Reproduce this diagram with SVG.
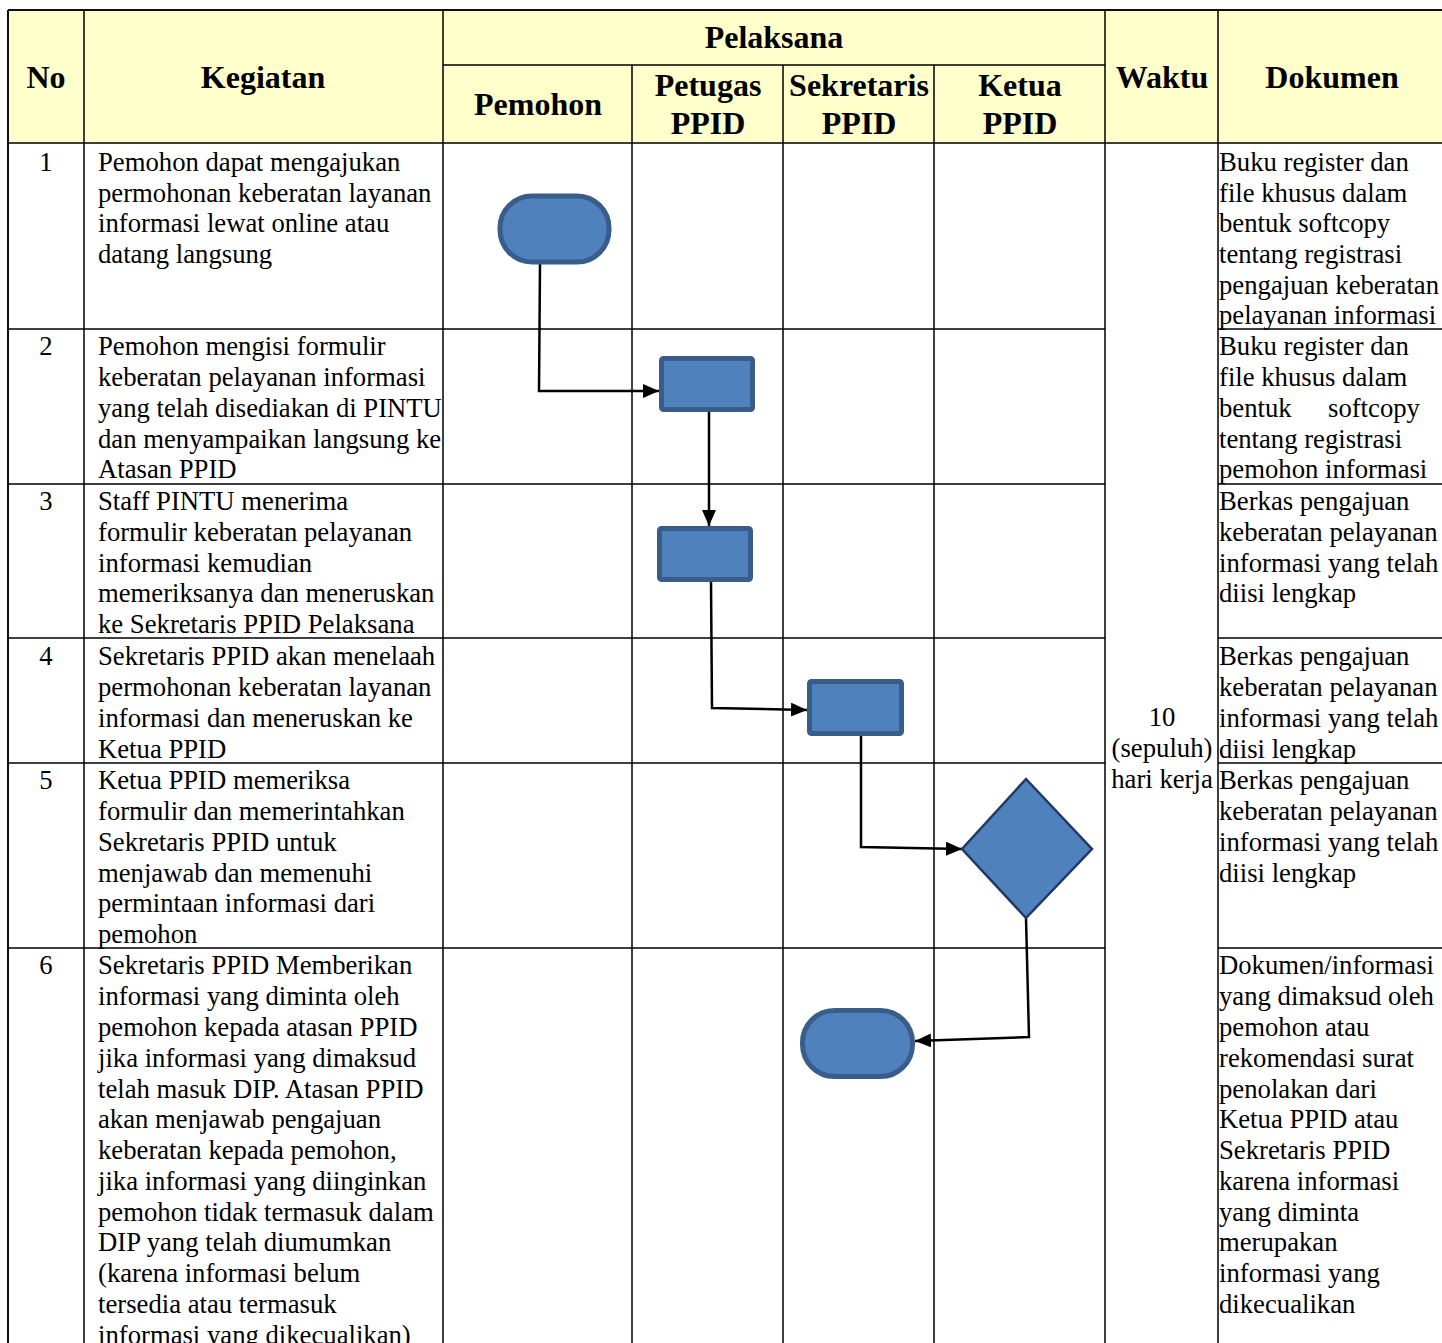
<svg xmlns="http://www.w3.org/2000/svg" width="1442" height="1343" viewBox="0 0 1442 1343">
<style>
.hdr{fill:#FFFFCC;stroke:none}
.g{stroke:#000;stroke-width:1.5;fill:none}
.h{font-family:"Liberation Serif","Times New Roman",serif;font-weight:bold;font-size:32px;fill:#000;text-anchor:middle}
.t{font-family:"Liberation Serif","Times New Roman",serif;font-size:26.7px;fill:#000}
.c{text-anchor:middle}
.term,.proc{fill:#4F81BD;stroke:#385D8A;stroke-width:5}
.dec{fill:#4F81BD;stroke:#1F3864;stroke-width:2.5}
.conn{fill:none;stroke:#000;stroke-width:2.5;marker-end:url(#arr)}
</style>
<defs>
<marker id="arr" markerUnits="userSpaceOnUse" markerWidth="18" markerHeight="16" refX="16" refY="7" orient="auto">
<path d="M0,0 L16,7 L0,14 z" fill="#000"/>
</marker>
</defs>
<rect width="1442" height="1343" fill="#fff"/>
<g id="table">
<rect class="hdr" x="8" y="10" width="1434" height="133"/>
<path class="g" d="M8,10 H1442 M8,143 H1442 M443,65 H1105 M8,329 H1105 M1218,329 H1442 M8,484 H1105 M1218,484 H1442 M8,638 H1105 M1218,638 H1442 M8,763 H1105 M1218,763 H1442 M8,948 H1105 M1218,948 H1442 M8,10 V1343 M84,10 V1343 M443,10 V1343 M632,65 V1343 M783,65 V1343 M934,65 V1343 M1105,10 V1343 M1218,10 V1343" stroke-width="1.5"/>
<path class="g" d="M8,10 H1442 M8,10 V1343" stroke-width="2"/>
</g>
<g id="header">
<text class="h" x="46" y="88">No</text>
<text class="h" x="263" y="88">Kegiatan</text>
<text class="h" x="774" y="48">Pelaksana</text>
<text class="h" x="538" y="115">Pemohon</text>
<text class="h" x="708" y="96">Petugas</text>
<text class="h" x="708" y="134">PPID</text>
<text class="h" x="859" y="96">Sekretaris</text>
<text class="h" x="859" y="134">PPID</text>
<text class="h" x="1020" y="96">Ketua</text>
<text class="h" x="1020" y="134">PPID</text>
<text class="h" x="1162" y="88">Waktu</text>
<text class="h" x="1332" y="88">Dokumen</text>
</g>
<g id="numbers">
<text class="t c" x="46" y="171">1</text>
<text class="t c" x="46" y="355">2</text>
<text class="t c" x="46" y="510">3</text>
<text class="t c" x="46" y="665">4</text>
<text class="t c" x="46" y="789">5</text>
<text class="t c" x="46" y="974">6</text>
</g>
<g id="kegiatan">
<text class="t" x="98" y="171">Pemohon dapat mengajukan</text>
<text class="t" x="98" y="202">permohonan keberatan layanan</text>
<text class="t" x="98" y="232">informasi lewat online atau</text>
<text class="t" x="98" y="263">datang langsung</text>

<text class="t" x="98" y="355">Pemohon mengisi formulir</text>
<text class="t" x="98" y="386">keberatan pelayanan informasi</text>
<text class="t" x="98" y="417">yang telah disediakan di PINTU</text>
<text class="t" x="98" y="448">dan menyampaikan langsung ke</text>
<text class="t" x="98" y="478">Atasan PPID</text>

<text class="t" x="98" y="510">Staff PINTU menerima</text>
<text class="t" x="98" y="541">formulir keberatan pelayanan</text>
<text class="t" x="98" y="572">informasi kemudian</text>
<text class="t" x="98" y="602">memeriksanya dan meneruskan</text>
<text class="t" x="98" y="633">ke Sekretaris PPID Pelaksana</text>

<text class="t" x="98" y="665">Sekretaris PPID akan menelaah</text>
<text class="t" x="98" y="696">permohonan keberatan layanan</text>
<text class="t" x="98" y="727">informasi dan meneruskan ke</text>
<text class="t" x="98" y="758">Ketua PPID</text>

<text class="t" x="98" y="789">Ketua PPID memeriksa</text>
<text class="t" x="98" y="820">formulir dan memerintahkan</text>
<text class="t" x="98" y="851">Sekretaris PPID untuk</text>
<text class="t" x="98" y="882">menjawab dan memenuhi</text>
<text class="t" x="98" y="912">permintaan informasi dari</text>
<text class="t" x="98" y="943">pemohon</text>

<text class="t" x="98" y="974">Sekretaris PPID Memberikan</text>
<text class="t" x="98" y="1005">informasi yang diminta oleh</text>
<text class="t" x="98" y="1036">pemohon kepada atasan PPID</text>
<text class="t" x="98" y="1067">jika informasi yang dimaksud</text>
<text class="t" x="98" y="1098">telah masuk DIP. Atasan PPID</text>
<text class="t" x="98" y="1128">akan menjawab pengajuan</text>
<text class="t" x="98" y="1159">keberatan kepada pemohon,</text>
<text class="t" x="98" y="1190">jika informasi yang diinginkan</text>
<text class="t" x="98" y="1221">pemohon tidak termasuk dalam</text>
<text class="t" x="98" y="1251">DIP yang telah diumumkan</text>
<text class="t" x="98" y="1282">(karena informasi belum</text>
<text class="t" x="98" y="1313">tersedia atau termasuk</text>
<text class="t" x="98" y="1344">informasi yang dikecualikan)</text>
</g>
<g id="waktu">
<text class="t c" x="1162" y="726">10</text>
<text class="t c" x="1162" y="757">(sepuluh)</text>
<text class="t c" x="1162" y="788">hari kerja</text>
</g>
<g id="dokumen">
<text class="t" x="1219" y="171">Buku register dan</text>
<text class="t" x="1219" y="202">file khusus dalam</text>
<text class="t" x="1219" y="232">bentuk softcopy</text>
<text class="t" x="1219" y="263">tentang registrasi</text>
<text class="t" x="1219" y="294">pengajuan keberatan</text>
<text class="t" x="1219" y="324">pelayanan informasi</text>

<text class="t" x="1219" y="355">Buku register dan</text>
<text class="t" x="1219" y="386">file khusus dalam</text>
<text class="t" y="417"><tspan x="1219">bentuk </tspan><tspan x="1328">softcopy</tspan></text>
<text class="t" x="1219" y="448">tentang registrasi</text>
<text class="t" x="1219" y="478">pemohon informasi</text>

<text class="t" x="1219" y="510">Berkas pengajuan</text>
<text class="t" x="1219" y="541">keberatan pelayanan</text>
<text class="t" x="1219" y="572">informasi yang telah</text>
<text class="t" x="1219" y="602">diisi lengkap</text>

<text class="t" x="1219" y="665">Berkas pengajuan</text>
<text class="t" x="1219" y="696">keberatan pelayanan</text>
<text class="t" x="1219" y="727">informasi yang telah</text>
<text class="t" x="1219" y="758">diisi lengkap</text>

<text class="t" x="1219" y="789">Berkas pengajuan</text>
<text class="t" x="1219" y="820">keberatan pelayanan</text>
<text class="t" x="1219" y="851">informasi yang telah</text>
<text class="t" x="1219" y="882">diisi lengkap</text>

<text class="t" x="1219" y="974">Dokumen/informasi</text>
<text class="t" x="1219" y="1005">yang dimaksud oleh</text>
<text class="t" x="1219" y="1036">pemohon atau</text>
<text class="t" x="1219" y="1067">rekomendasi surat</text>
<text class="t" x="1219" y="1098">penolakan dari</text>
<text class="t" x="1219" y="1128">Ketua PPID atau</text>
<text class="t" x="1219" y="1159">Sekretaris PPID</text>
<text class="t" x="1219" y="1190">karena informasi</text>
<text class="t" x="1219" y="1221">yang diminta</text>
<text class="t" x="1219" y="1251">merupakan</text>
<text class="t" x="1219" y="1282">informasi yang</text>
<text class="t" x="1219" y="1313">dikecualikan</text>
</g>
<g id="connectors">
<path class="conn" d="M540,264 L539,391 L659,391"/>
<path class="conn" d="M709,412 L709,526"/>
<path class="conn" d="M711,582 L712,708 L807,710"/>
<path class="conn" d="M861,736 L861,847 L962,849"/>
<path class="conn" d="M1026,918 L1029,1037 L915,1041"/>
</g>
<g id="n1"><rect class="term" x="500" y="196" width="109" height="66" rx="32"/></g>
<g id="n2"><rect class="proc" x="661.5" y="358.5" width="91" height="51" rx="2"/></g>
<g id="n3"><rect class="proc" x="659.5" y="528.5" width="91" height="51" rx="2"/></g>
<g id="n4"><rect class="proc" x="809.5" y="681.5" width="92" height="52" rx="2"/></g>
<g id="n5"><polygon class="dec" points="1026,779 1092,849 1026,918 962,849"/></g>
<g id="n6"><rect class="term" x="802.5" y="1010.5" width="110" height="66" rx="32"/></g>
</svg>
